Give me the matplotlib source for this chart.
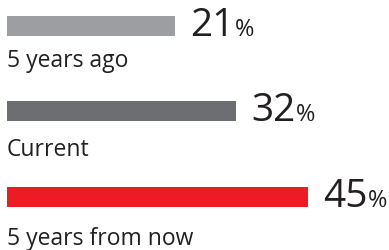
import matplotlib
matplotlib.use('Agg')
import matplotlib.pyplot as plt

# chart data
categories = ['5 years ago', 'Current', '5 years from now']
values = [21, 32, 45]
bar_colors = ['#9d9ea2', '#6d6e72', '#ed1c24']

plt.rcParams['font.family'] = ['Open Sans', 'DejaVu Sans']
text_color = '#231f20'

fig = plt.figure(figsize=(3.89, 2.5), dpi=100)
ax = fig.add_axes([0, 0, 1, 1])

# bars start a bit left of zero, as in the original graphic
base = -9.3
ypos = list(range(len(values)))
ax.barh(ypos, [v - base for v in values], left=base, height=0.234,
        color=bar_colors)

for i, (cat, v) in enumerate(zip(categories, values)):
    bottom = i + 0.117
    num = ax.annotate(str(v), xy=(v, bottom), xytext=(11, 0),
                      textcoords='offset points', fontsize=28,
                      color=text_color, va='baseline', ha='left')
    ax.annotate('%', xy=(1, bottom), xycoords=(num, 'data'),
                xytext=(0.5, 0), textcoords='offset points', fontsize=17,
                color=text_color, va='baseline', ha='left')
    ax.text(base, 0.48 + 1.04 * i, cat, fontsize=16.5, color=text_color,
            va='baseline', ha='left')

ax.set_xlim(-10.56, 59.65)
ax.set_ylim(2.62, -0.304)
ax.axis('off')

fig.savefig('out.png', dpi=100)
